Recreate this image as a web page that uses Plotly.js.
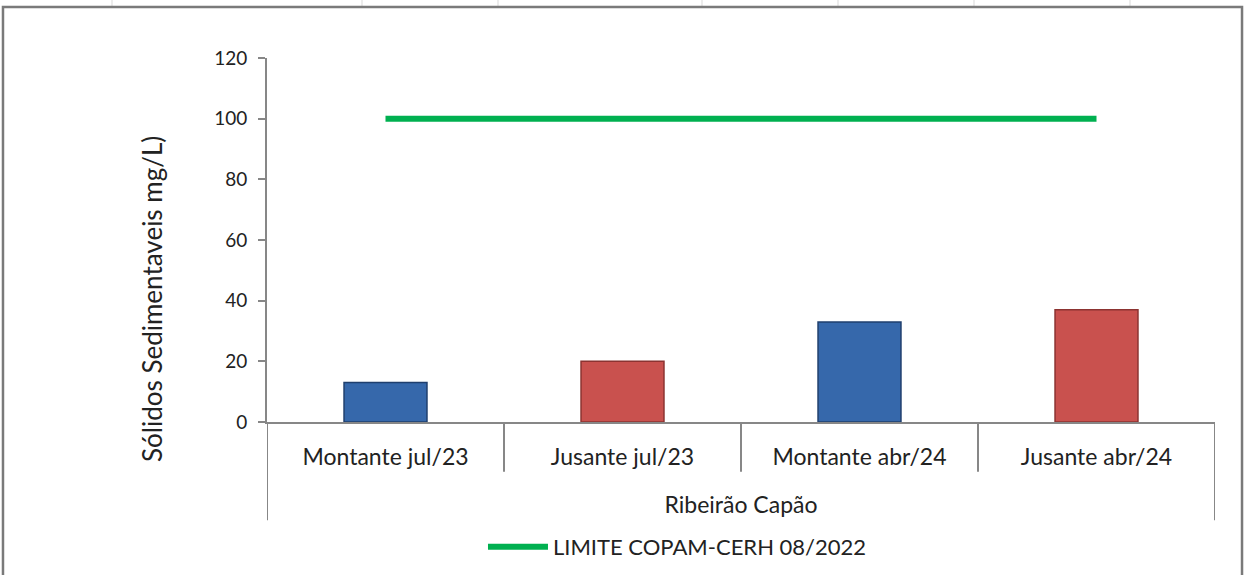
<!DOCTYPE html>
<html>
<head>
<meta charset="utf-8">
<script src="https://cdn.plot.ly/plotly-3.0.1.min.js"></script>
<style>html,body{margin:0;padding:0;background:#fff;}#chart{width:1250px;height:575px;}</style>
</head>
<body>
<div id="chart"></div>
<script>
const groupLabel = "Ribeirão Capão";
const categories = ["Montante jul/23", "Jusante jul/23", "Montante abr/24", "Jusante abr/24"];
const solidValues = [13, 20, 33, 37];
const limitValues = [100, 100, 100, 100];
const limitName = "LIMITE COPAM-CERH 08/2022";
const yTitle = "Sólidos Sedimentaveis mg/L)";
const barColors = ["#3668ab", "#c9514e", "#3668ab", "#c9514e"];
const barEdge = ["#1f3f6e", "#8c3331", "#1f3f6e", "#8c3331"];
const yTickVals = [0, 20, 40, 60, 80, 100, 120];

const font = "Lato, 'Open Sans', sans-serif";
const axisGray = "#878787";

// category separator lines below the axis, placed through the x axis scale
const sepShapes = [];
for (let i = 0; i <= categories.length; i++) {
  const outer = (i === 0 || i === categories.length);
  sepShapes.push({
    type: "line", xref: "x", yref: "paper",
    x0: i - 0.5, x1: i - 0.5,
    y0: 0, y1: outer ? -0.27 : -0.137,
    line: {color: axisGray, width: 2}
  });
}
// spreadsheet gridlines behind the chart frame
const sheetLines = [112, 362, 498, 702, 838, 974, 1130].map(px => ({
  type: "line", xref: "paper", yref: "paper",
  x0: (px - 267) / 948, x1: (px - 267) / 948, y0: 1.14, y1: 1.2,
  line: {color: "#d9d9d9", width: 1}, layer: "below"
}));

const traces = [
  {
    type: "bar",
    x: categories,
    y: solidValues,
    width: 0.35,
    marker: {color: barColors, line: {color: barEdge, width: 1.5}},
    showlegend: false,
    hoverinfo: "y"
  },
  {
    type: "scatter",
    mode: "lines",
    x: categories,
    y: limitValues,
    name: limitName,
    line: {color: "#00b050", width: 6}
  }
];

const layout = {
  width: 1250,
  height: 575,
  paper_bgcolor: "#ffffff",
  plot_bgcolor: "#ffffff",
  margin: {l: 267, r: 35, t: 58, b: 153, autoexpand: false},
  font: {family: font, color: "#222222", size: 18},
  xaxis: {
    type: "category",
    range: [-0.5, 3.5],
    automargin: false,
    showline: true,
    linecolor: axisGray,
    linewidth: 2,
    ticks: "",
    ticklabelstandoff: 13,
    tickfont: {size: 23, color: "#222222"},
    showgrid: false,
    zeroline: false,
    title: {text: groupLabel, font: {size: 23, color: "#222222"}, standoff: 28}
  },
  yaxis: {
    range: [0, 120],
    tickvals: yTickVals,
    automargin: false,
    showline: true,
    linecolor: axisGray,
    linewidth: 2,
    ticks: "outside",
    ticklen: 7,
    tickcolor: axisGray,
    tickwidth: 2,
    ticklabelstandoff: 7,
    showgrid: false,
    zeroline: false,
    tickfont: {size: 19, color: "#222222"}
  },
  annotations: [
    {text: yTitle, xref: "paper", yref: "paper", x: -0.1213, y: 0.338, textangle: -90,
     showarrow: false, xanchor: "center", yanchor: "middle", font: {size: 26, color: "#222222"}}
  ],
  legend: {
    orientation: "h",
    x: 0.433,
    xanchor: "center",
    y: -0.343,
    yanchor: "middle",
    itemwidth: 60,
    font: {size: 22, color: "#222222"},
    bgcolor: "rgba(0,0,0,0)"
  },
  shapes: sepShapes.concat(sheetLines).concat([
    {type: "rect", xref: "paper", yref: "paper", x0: -0.2785, x1: 1.0285, y0: -0.45, y1: 1.14, line: {color: "#7a7a7a", width: 2.5}, fillcolor: "rgba(0,0,0,0)", layer: "below"}
  ]),
  showlegend: true
};

Plotly.newPlot("chart", traces, layout, {displayModeBar: false, staticPlot: true});
</script>
</body>
</html>
